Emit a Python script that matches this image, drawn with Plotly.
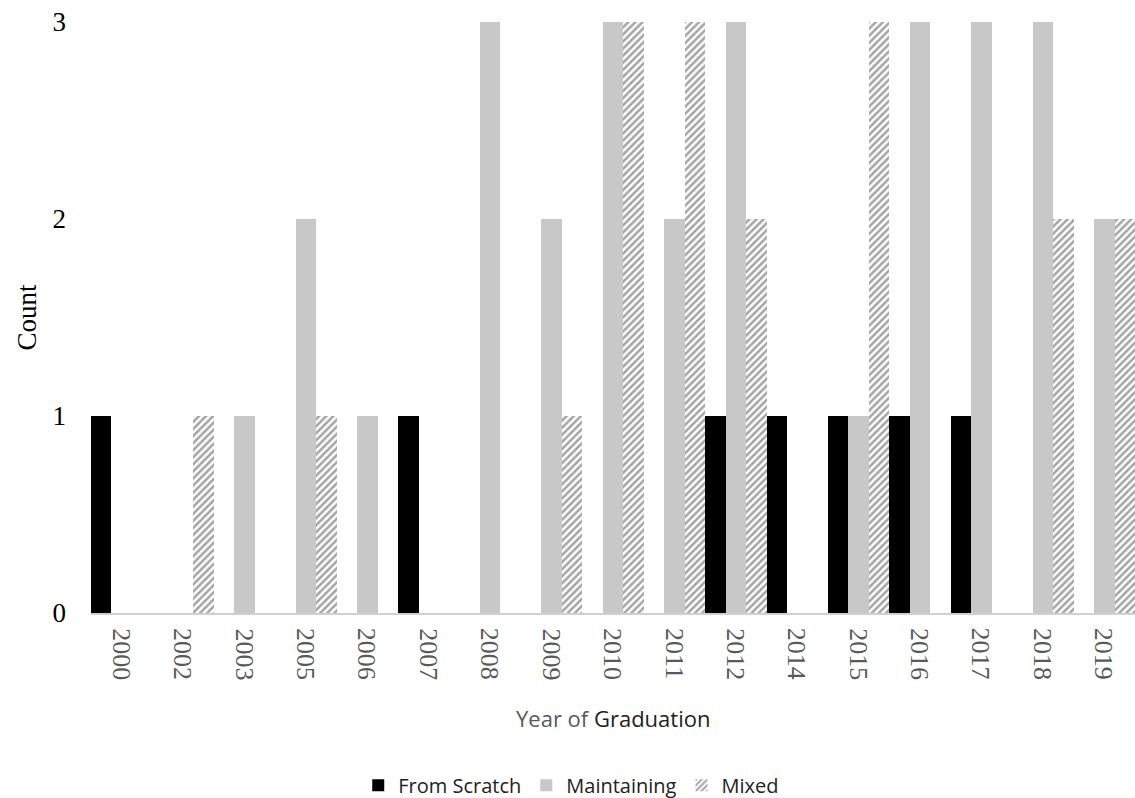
import plotly.graph_objects as go

years = ["2000", "2002", "2003", "2005", "2006", "2007", "2008", "2009", "2010",
         "2011", "2012", "2014", "2015", "2016", "2017", "2018", "2019"]
from_scratch = [1, 0, 0, 0, 0, 1, 0, 0, 0, 0, 1, 1, 1, 1, 1, 0, 0]
maintaining = [0, 0, 1, 2, 1, 0, 3, 2, 3, 2, 3, 0, 1, 3, 3, 3, 2]
mixed = [0, 1, 0, 1, 0, 0, 0, 1, 3, 3, 2, 0, 3, 0, 0, 2, 2]

serif = "Liberation Serif"
sans = "Open Sans"

fig = go.Figure()
fig.add_trace(go.Bar(x=years, y=from_scratch, name="From Scratch",
                     marker=dict(color="#000000", line=dict(width=0))))
fig.add_trace(go.Bar(x=years, y=maintaining, name="Maintaining",
                     marker=dict(color="#c8c8c8", line=dict(width=0))))
fig.add_trace(go.Bar(x=years, y=mixed, name="Mixed",
                     marker=dict(color="#ffffff", line=dict(width=0),
                                 pattern=dict(shape="/", fgcolor="#4a4a4a",
                                              bgcolor="#ffffff", size=5,
                                              solidity=0.5))))

# year labels placed at each category's index on the category axis
annotations = [dict(text=yr, x=i, xref="x", y=-0.022, yref="paper",
                    textangle=90, xanchor="center", yanchor="top",
                    showarrow=False,
                    font=dict(family=serif, size=26, color="#595959"))
               for i, yr in enumerate(years)]
annotations.append(dict(text="Year of <span style='color:#222'>Graduation</span>",
                        x=0.5, xref="paper", y=-0.1777, yref="paper",
                        xanchor="center", yanchor="middle", showarrow=False,
                        font=dict(family=sans, size=22, color="#595959")))

fig.update_layout(
    width=1135, height=798,
    font=dict(family=serif, color="#000000"),
    barmode="group", bargap=0, bargroupgap=0,
    plot_bgcolor="white", paper_bgcolor="white",
    margin=dict(l=91, r=0, t=22, b=185),
    showlegend=True,
    legend=dict(orientation="h", x=0.46, xanchor="center",
                y=0.016, yref="container", yanchor="middle",
                font=dict(family=sans, size=20, color="#222222"),
                traceorder="normal"),
    xaxis=dict(type="category", showticklabels=False,
               categoryorder="array", categoryarray=years,
               range=[-0.5, len(years) - 0.5],
               showline=True, linecolor="#d0d0d0", linewidth=2,
               ticks="", showgrid=False, automargin=False),
    yaxis=dict(range=[0, 3], tickvals=[0, 1, 2, 3], showgrid=False,
               zeroline=False, showline=False, ticks="",
               ticklabelstandoff=24, automargin=False,
               tickfont=dict(family=serif, size=27, color="#000000"),
               title=dict(text="Count", font=dict(family=serif, size=27, color="#000000"),
                          standoff=8)),
    annotations=annotations,
)

fig.write_html("out.html")
